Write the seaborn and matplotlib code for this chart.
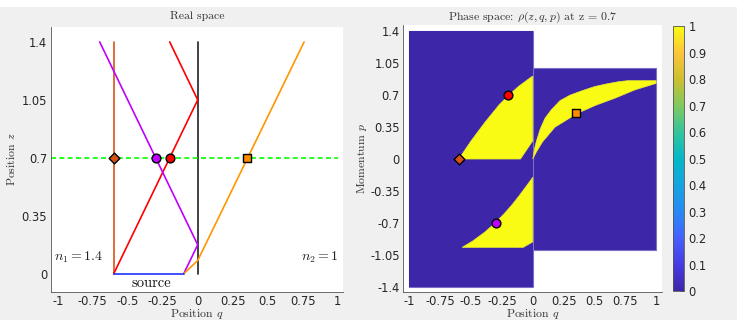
import matplotlib
matplotlib.use("Agg")
import matplotlib.pyplot as plt
import seaborn as sns
from matplotlib.colors import LinearSegmentedColormap, Normalize
from matplotlib.cm import ScalarMappable
from matplotlib.patches import Rectangle

# ---- real space rays (q, z) ----
wall_q = [0.0, 0.0]
wall_z = [0.0, 1.4]
axial_q = [-0.6, -0.6]
axial_z = [0.0, 1.4]
red_q = [-0.6, 0.0, -0.2]
red_z = [0.0, 1.05, 1.4]
purple_q = [-0.1, 0.0, -0.7]
purple_z = [0.0, 0.175, 1.4]
orange_q = [-0.1, 0.0, 0.76]
orange_z = [0.0, 0.08, 1.4]
source_q = [-0.6, -0.1]
source_z = [0.0, 0.0]
slice_q = [-1.05, 1.0]
slice_z = [0.7, 0.7]

# markers at z = 0.7: (q in real space, p in phase space)
marker_names = ["axial", "reflected", "direct", "refracted"]
marker_q = [-0.6, -0.3, -0.2, 0.35]
marker_p = [0.0, -0.7, 0.7, 0.5]
marker_z = [0.7, 0.7, 0.7, 0.7]

# ---- phase space regions ----
medium1_q = [-1.0, 0.0, 0.0, -1.0]
medium1_p = [-1.4, -1.4, 1.4, 1.4]
medium2_q = [0.0, 1.0, 1.0, 0.0]
medium2_p = [-1.0, -1.0, 1.0, 1.0]

direct_q = [-0.6, -0.5, -0.39, -0.33, -0.27, -0.196, -0.113, -0.013, 0.0, 0.0, -0.1]
direct_p = [0.0, 0.2, 0.4, 0.5, 0.6, 0.7, 0.8, 0.9, 0.91, 0.2, 0.0]

refl_q = [0.0, -0.054, -0.109, -0.167, -0.232, -0.304, -0.387, -0.487, -0.573, -0.077, 0.0]
refl_p = [-0.2, -0.3, -0.4, -0.5, -0.6, -0.7, -0.8, -0.9, -0.97, -0.97, -0.91]

refr_q = [0.0, 0.015, 0.03, 0.06, 0.1, 0.15, 0.22, 0.3, 0.4, 0.5, 0.6, 0.7, 0.77, 1.0,
          1.0, 0.83, 0.67, 0.51, 0.36, 0.18, 0.08, 0.03, 0.0]
refr_p = [0.0, 0.12, 0.2, 0.33, 0.45, 0.54, 0.64, 0.70, 0.75, 0.795, 0.825, 0.85, 0.86, 0.86,
          0.83, 0.76, 0.67, 0.59, 0.50, 0.35, 0.19, 0.08, 0.0]

q_ticks = [-1, -0.75, -0.5, -0.25, 0, 0.25, 0.5, 0.75, 1]
q_labels = ["-1", "-0.75", "-0.5", "-0.25", "0", "0.25", "0.5", "0.75", "1"]
z_ticks = [0, 0.35, 0.7, 1.05, 1.4]
z_labels = ["0", "0.35", "0.7", "1.05", "1.4"]
p_ticks = [-1.4, -1.05, -0.7, -0.35, 0, 0.35, 0.7, 1.05, 1.4]
p_labels = ["-1.4", "-1.05", "-0.7", "-0.35", "0", "0.35", "0.7", "1.05", "1.4"]
cb_ticks = [0, 0.1, 0.2, 0.3, 0.4, 0.5, 0.6, 0.7, 0.8, 0.9, 1]
cb_labels = ["0", "0.1", "0.2", "0.3", "0.4", "0.5", "0.6", "0.7", "0.8", "0.9", "1"]

parula = LinearSegmentedColormap.from_list("parula", [
    (0.2422, 0.1504, 0.6603), (0.2780, 0.2300, 0.8900), (0.2700, 0.3800, 0.9900),
    (0.1500, 0.5400, 0.9500), (0.0800, 0.6400, 0.8800), (0.0200, 0.7200, 0.7800),
    (0.2000, 0.7700, 0.6100), (0.5000, 0.7900, 0.3700), (0.8000, 0.7500, 0.1900),
    (0.9900, 0.7700, 0.2300), (0.9769, 0.9839, 0.0805)])

marker_colors = {"axial": "#D95319", "reflected": "#BF00FF", "direct": "#FF0000", "refracted": "#FF8C00"}
marker_shapes = {"axial": "D", "reflected": "o", "direct": "o", "refracted": "s"}
marker_sizes = {"axial": 30, "reflected": 40, "direct": 40, "refracted": 26}

sns.set_style("white")
plt.rcParams["font.family"] = ["DejaVu Sans"]
plt.rcParams["mathtext.fontset"] = "cm"
plt.rcParams["xtick.direction"] = "in"
plt.rcParams["ytick.direction"] = "in"

fig = plt.figure(figsize=(7.37, 3.2), dpi=100, facecolor="#F0F0F0")
fig.patches.append(Rectangle((0, 1 - 7 / 320), 1, 7 / 320, transform=fig.transFigure,
                             facecolor="white", edgecolor="none"))

ax1 = fig.add_axes([50.7 / 737, 0.0875, 292.6 / 737, 0.828])
ax2 = fig.add_axes([403.3 / 737, 0.0875, 259 / 737, 0.834])
cax = fig.add_axes([673.3 / 737, 0.0906, 11 / 737, 0.828])

tick_col = "#262626"
spine_col = "#555555"
label_kw = dict(fontsize=8.5, color="#333333", family="cmr10")


def style_axes(ax):
    for side in ["top", "right"]:
        ax.spines[side].set_visible(False)
    for side in ["left", "bottom"]:
        ax.spines[side].set_color(spine_col)
        ax.spines[side].set_linewidth(0.6)
    ax.tick_params(length=3, width=0.6, color=spine_col, labelsize=8.3,
                   labelcolor=tick_col, pad=2.5)


# ---- left: real space ----
line_kw = dict(ax=ax1, sort=False, estimator=None, lw=1.2)
sns.lineplot(x=wall_q, y=wall_z, color="#222222", **line_kw)
sns.lineplot(x=axial_q, y=axial_z, color="#D95319", **line_kw)
sns.lineplot(x=red_q, y=red_z, color="#FF0000", **line_kw)
sns.lineplot(x=purple_q, y=purple_z, color="#BF00FF", **line_kw)
sns.lineplot(x=orange_q, y=orange_z, color="#FF9500", **line_kw)
sns.lineplot(x=source_q, y=source_z, color="#2030FF", **line_kw)
sns.lineplot(x=slice_q, y=slice_z, color="#00FF00", linestyle=(0, (3, 2)), **line_kw)

for name, q, z in zip(marker_names, marker_q, marker_z):
    sns.scatterplot(x=[q], y=[z], ax=ax1, marker=marker_shapes[name], s=marker_sizes[name],
                    color=marker_colors[name], edgecolor="black", linewidth=1, zorder=5)

ax1.text(-0.85, 0.1, r"$n_1 = 1.4$", fontsize=10, color="#222222", ha="center", va="center")
ax1.text(0.87, 0.1, r"$n_2 = 1$", fontsize=10, color="#222222", ha="center", va="center")
ax1.text(-0.33, -0.055, "source", fontsize=10.5, color="#111111", ha="center", va="center",
         family="cmr10")

ax1.set_xlim(-1.05, 1.04)
ax1.set_ylim(-0.11, 1.49)
ax1.set_xticks(q_ticks, q_labels)
ax1.set_yticks(z_ticks, z_labels)
ax1.set_xlabel(r"Position $q$", labelpad=-1, **label_kw)
ax1.set_ylabel(r"Position $z$", labelpad=3, **label_kw)
ax1.set_title("Real space", pad=6, **label_kw)
style_axes(ax1)

# ---- right: phase space ----
dark = parula(0.0)
bright = parula(1.0)
ax2.fill(medium1_q, medium1_p, facecolor=dark, edgecolor="#7A70C8", lw=0.8)
ax2.fill(medium2_q, medium2_p, facecolor=dark, edgecolor="#7A70C8", lw=0.8)
ax2.fill(medium1_q, medium1_p, facecolor=dark, edgecolor="none")
for rq, rp in [(direct_q, direct_p), (refl_q, refl_p), (refr_q, refr_p)]:
    ax2.fill(rq, rp, facecolor=bright, edgecolor="#E8E830", lw=0.5)

for name, q, p in zip(marker_names, marker_q, marker_p):
    sns.scatterplot(x=[q], y=[p], ax=ax2, marker=marker_shapes[name], s=marker_sizes[name],
                    color=marker_colors[name], edgecolor="black", linewidth=1, zorder=5)

ax2.set_xlim(-1.05, 1.05)
ax2.set_ylim(-1.46, 1.47)
ax2.set_xticks(q_ticks, q_labels)
ax2.set_yticks(p_ticks, p_labels)
ax2.set_xlabel(r"Position $q$", labelpad=-1, **label_kw)
ax2.set_ylabel(r"Momentum $p$", labelpad=1, **label_kw)
ax2.set_title(r"Phase space: $\rho(z,q,p)$ at z = 0.7", pad=4, **label_kw)
style_axes(ax2)

cb = fig.colorbar(ScalarMappable(norm=Normalize(0, 1), cmap=parula), cax=cax)
cb.set_ticks(cb_ticks, labels=cb_labels)
cb.outline.set_edgecolor(spine_col)
cb.outline.set_linewidth(0.6)
cax.tick_params(direction="in", length=3, width=0.6, color=spine_col, labelsize=8.3,
                labelcolor=tick_col, pad=3)

fig.savefig("out.png", dpi=100, facecolor=fig.get_facecolor())
